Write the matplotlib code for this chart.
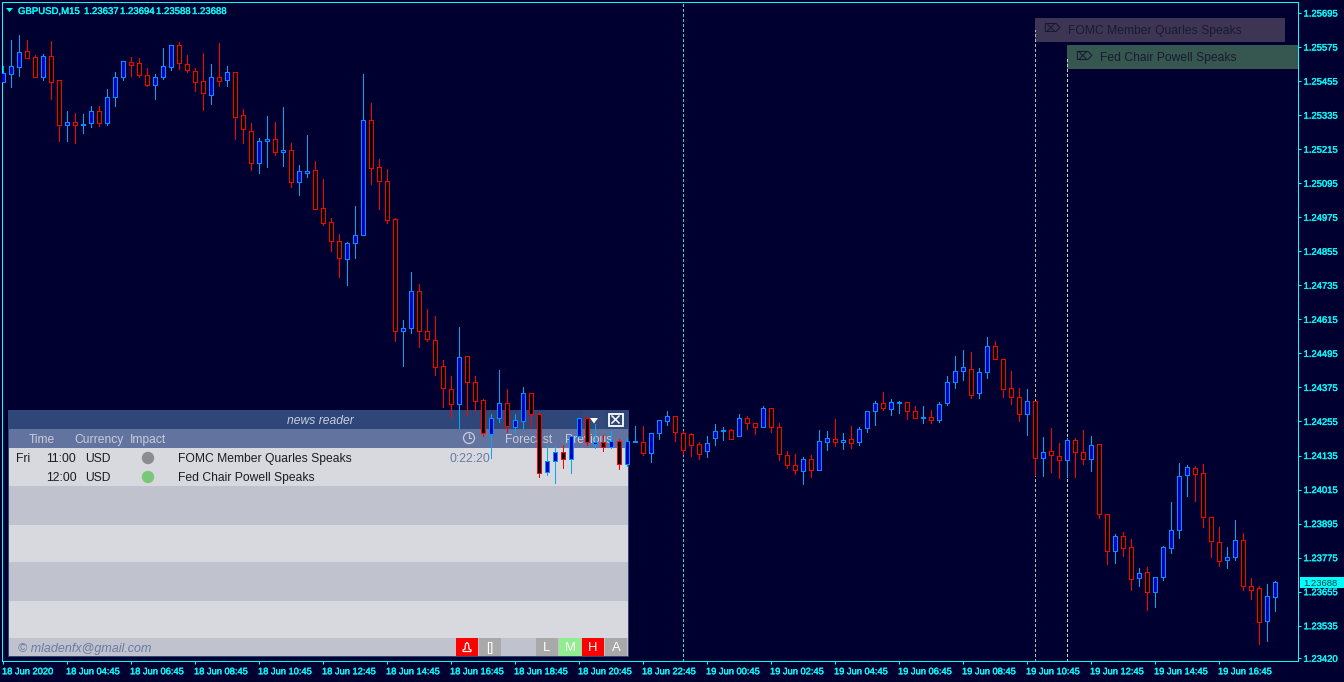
import matplotlib
matplotlib.use("Agg")
import matplotlib.pyplot as plt
from matplotlib.patches import Rectangle, Circle, Polygon
from matplotlib.transforms import ScaledTranslation
import matplotlib.patheffects as pe

# ---- data: prices in points (1e-5) ----
opens = [125452,125480,125505,125561,125540,125470,125544,125459,125300,125311,
125300,125307,125350,125307,125399,125470,125522,125519,125477,125441,
125470,125505,125582,125515,125491,125455,125406,125470,125459,125487,
125336,125279,125166,125244,125251,125205,125212,125099,125131,125142,
125008,124958,124891,124828,124884,124913,125318,125152,125103,124969,
124574,124585,124715,124574,124543,124451,124370,124317,124486,124394,
124331,124211,124268,124320,124236,124257,124356,124282,124077,124116,
124148,124123,124204,124268,124176,124183,124165,124186,124105,124183,
124183,124144,124215,124257,124275,124215,124211,124176,124151,124197,
124222,124225,124204,124268,124250,124236,124303,124236,124137,124102,
124081,124123,124084,124183,124194,124183,124194,124183,124232,124292,
124320,124299,124320,124324,124292,124268,124271,124260,124320,124394,
124433,124440,124356,124430,124521,124475,124373,124342,124282,124327,
124127,124151,124134,124120,124190,124148,124123,124176,123929,123799,
123852,123813,123704,123725,123654,123707,123809,123873,124067,124091,
124074,123919,123830,123767,123778,123837,123675,123668,123552,123637]
highs = [125508,125600,125618,125600,125547,125551,125596,125459,125350,125343,
125339,125367,125367,125427,125487,125526,125540,125537,125501,125480,
125572,125582,125593,125547,125501,125554,125515,125589,125508,125487,
125357,125307,125254,125332,125311,125364,125237,125159,125265,125173,
125110,124972,124916,124888,125015,125480,125378,125181,125145,124972,
124613,124782,124740,124652,124627,124472,124416,124588,124486,124416,
124335,124282,124437,124370,124282,124377,124356,124289,124172,124169,
124172,124204,124268,124275,124246,124208,124222,124194,124197,124239,
124239,124215,124260,124292,124275,124222,124215,124183,124204,124246,
124236,124229,124282,124275,124250,124310,124303,124250,124151,124141,
124130,124137,124225,124222,124264,124215,124239,124236,124292,124327,
124359,124335,124327,124324,124310,124310,124296,124324,124416,124486,
124507,124500,124444,124553,124539,124475,124433,124373,124370,124327,
124201,124232,124179,124197,124197,124225,124204,124176,123929,123859,
123866,123841,123739,123742,123707,123816,123971,124109,124102,124098,
124105,123919,123883,123813,123908,123862,123703,123675,123682,123694]
lows = [125452,125434,125473,125537,125470,125459,125392,125244,125244,125237,
125272,125293,125297,125300,125367,125459,125473,125470,125438,125392,
125462,125494,125498,125487,125420,125353,125374,125438,125438,125251,
125237,125142,125131,125152,125195,125156,125082,125054,125117,125004,
124948,124856,124765,124736,124832,124913,125092,125004,124955,124539,
124451,124567,124518,124539,124419,124306,124271,124232,124278,124292,
124204,124127,124253,124218,124215,124232,124236,124060,124067,124038,
124091,124074,124204,124172,124162,124151,124162,124088,124098,124183,
124137,124112,124194,124243,124186,124141,124134,124123,124130,124172,
124190,124194,124204,124229,124211,124236,124218,124120,124091,124070,
124035,124060,124084,124155,124169,124158,124162,124172,124218,124243,
124296,124278,124285,124264,124268,124250,124250,124253,124313,124373,
124401,124338,124338,124409,124475,124342,124317,124257,124208,124067,
124063,124077,124056,124060,124060,124105,124081,123915,123753,123756,
123781,123661,123675,123591,123601,123696,123792,123845,123993,123975,
123883,123778,123746,123739,123767,123661,123630,123471,123481,123588]
closes = [125484,125508,125558,125537,125470,125544,125452,125300,125311,125300,
125304,125350,125307,125399,125470,125526,125512,125477,125441,125470,
125508,125582,125519,125494,125452,125413,125470,125455,125487,125329,
125286,125166,125244,125251,125205,125212,125099,125138,125138,125004,
124955,124891,124832,124884,124913,125318,125149,125103,124965,124574,
124585,124715,124574,124546,124447,124373,124317,124483,124394,124327,
124215,124268,124320,124239,124260,124356,124282,124074,124116,124148,
124123,124204,124268,124183,124183,124165,124186,124105,124186,124186,
124144,124215,124260,124275,124218,124155,124172,124141,124179,124222,
124225,124194,124268,124250,124236,124303,124236,124141,124102,124084,
124123,124084,124186,124197,124183,124190,124179,124229,124292,124320,
124303,124324,124324,124292,124268,124271,124260,124317,124394,124433,
124447,124349,124430,124521,124475,124370,124342,124282,124327,124127,
124148,124137,124120,124190,124148,124123,124172,123929,123799,123852,
123809,123700,123721,123654,123707,123813,123873,124063,124095,124070,
123919,123834,123763,123778,123837,123675,123661,123548,123640,123688]

y_ticks = [1.25695,1.25575,1.25455,1.25335,1.25215,1.25095,1.24975,1.24855,1.24735,1.24615,
           1.24495,1.24375,1.24255,1.24135,1.24015,1.23895,1.23775,1.23655,1.23535,1.23420]
x_tick_labels = ["18 Jun 2020","18 Jun 04:45","18 Jun 06:45","18 Jun 08:45","18 Jun 10:45",
                 "18 Jun 12:45","18 Jun 14:45","18 Jun 16:45","18 Jun 18:45","18 Jun 20:45",
                 "18 Jun 22:45","19 Jun 00:45","19 Jun 02:45","19 Jun 04:45","19 Jun 06:45",
                 "19 Jun 08:45","19 Jun 10:45","19 Jun 12:45","19 Jun 14:45","19 Jun 16:45"]
event_bars = [85, 129, 133]
event_colors = ["#20e0e0", "#b4b4bc", "#b0e0c4"]
event_tops = [1.0, 0.9575, 0.9165]

# ---- style ----
BG = "#000030"; CY = "#00ffff"
BULL_W = "#00a8f8"; BULL_E = "#0090ff"; BULL_F = "#0000c0"
BEAR = "#ff0000"; BEAR_F = "#000000"
SANS = "Liberation Sans"
W, H = 1344, 682
PX_PER_PRICE = 28366.0
LW = 0.72
HEAVY = [pe.withStroke(linewidth=0.25, foreground=CY)]

fig = plt.figure(figsize=(W/100, H/100), dpi=100, facecolor=BG)

ui = fig.add_axes([0, 0, 1, 1], zorder=0)
ui.set_xlim(0, W); ui.set_ylim(H, 0); ui.axis("off")

def box(a, x0, y0, x1, y1, c, **k):
    a.add_patch(Rectangle((x0, y0), x1-x0, y1-y0, facecolor=c, edgecolor="none", **k))

# event tags
box(ui, 1035, 18, 1285, 42, "#3c3654")
box(ui, 1067, 45, 1298, 69, "#35574f")
for x, y, s in [(1051, 29, "FOMC Member Quarles Speaks"), (1083, 56, "Fed Chair Powell Speaks")]:
    ui.text(x, y, "\u2326", family="DejaVu Sans", fontsize=8.5, weight="bold", color="#181830", ha="center", va="center")
    ui.text(x+17, y+2, s, family=SANS, fontsize=8.7, color="#1a1a30", va="center")

# news panel
box(ui, 8, 410, 629, 657, "#2e4678")
box(ui, 9, 429, 628, 448, "#62739f")
rows = [(448,486,"#d8d9de"),(486,525,"#c0c2ce"),(525,562,"#d8d9de"),(562,601,"#c0c2ce"),(601,638,"#d8d9de"),(638,656,"#c0c2ce")]
for y0, y1, c_ in rows:
    box(ui, 9, y0, 628, y1, c_)
box(ui, 583, 410, 605, 429, "#32497a")
ui.text(320, 421, "news reader", family=SANS, style="italic", fontsize=8.7, color="#c8cde0", ha="center", va="center")
HC = "#c8ccd8"
for x, s in [(29,"Time"),(74,"Currency"),(130,"Impact"),(505,"Forecast"),(565,"Previous")]:
    ui.text(x, 440, s, family=SANS, fontsize=8.7, color=HC, va="center")
ui.add_patch(Circle((469, 438), 5.5, facecolor="none", edgecolor=HC, lw=0.9))
ui.plot([469, 469, 471], [434, 438, 438], color=HC, lw=0.8)
TC = "#1c1c24"
for x, y, s in [(16,459,"Fri"),(46.5,459,"11:00"),(85,459,"USD"),(178,459,"FOMC Member Quarles Speaks"),
                (46.5,478,"12:00"),(85,478,"USD"),(178,478,"Fed Chair Powell Speaks")]:
    ui.text(x, y, s, family=SANS, fontsize=8.7, color=TC, va="center")
ui.text(449, 459, "0:22:20", family=SANS, fontsize=8.7, color="#6b7a9f", va="center")
ui.add_patch(Circle((148, 458), 6.2, facecolor="#8c8c90", edgecolor="none"))
ui.add_patch(Circle((148, 477), 6.2, facecolor="#78c878", edgecolor="none"))
ui.text(18, 649, "\u00a9 mladenfx@gmail.com", family=SANS, style="italic", fontsize=9.0, color="#6b7a9f", va="center")
ui.add_patch(Polygon([[590,418],[598,418],[594,423.5]], closed=True, facecolor="white", edgecolor="none"))
ui.add_patch(Rectangle((608.5,413.5),14,12, facecolor="#2e4678", edgecolor="white", lw=1.3))
ui.plot([612,619],[416,423], color="white", lw=1.1); ui.plot([612,619],[423,416], color="white", lw=1.1)

for x0, x1, c_, s in [(456,478,"#ff0000",""),(479,501,"#a9a9a9","[]"),(536,558,"#a9a9a9","L"),
                     (559,581,"#90ee90","M"),(582,604,"#ff0000","H"),(605,627,"#a9a9a9","A")]:
    box(ui, x0, 638, x1, 656, c_)
    if s:
        ui.text((x0+x1)/2, 648, s, family=SANS, fontsize=9.4, color="white", ha="center", va="center")
ui.add_patch(Polygon([[463,650],[465,649],[465.5,644],[467,642.5],[468.5,644],[469,649],[471,650],[471,651.5],[463,651.5]],
                     closed=True, facecolor="none", edgecolor="white", lw=0.9))

# chart header
ui.add_patch(Polygon([[6,8],[13,8],[9.5,12]], closed=True, facecolor=CY, edgecolor="none"))
ui.text(18, 11, "GBPUSD,M15", family=SANS, fontsize=6.9, color=CY, va="center", path_effects=HEAVY)
for x, v in zip([84,120,156,192], [opens[-1], highs[-1], lows[-1], closes[-1]]):
    ui.text(x, 11, f"{v/1e5:.5f}", family=SANS, fontsize=6.9, color=CY, va="center", path_effects=HEAVY)

# main chart axes
ax = fig.add_axes([2.0/W, (H-661.0)/H, 1296/W, 659/H], zorder=1)
ax.patch.set_alpha(0)
ax.set_xlim(-1/8, 1295/8)
ax.set_ylim(1.25695 - 648/PX_PER_PRICE, 1.25695 + 11/PX_PER_PRICE)

idx = list(range(len(opens)))
P = lambda a: [v/1e5 for v in a]
o, h, l, c = P(opens), P(highs), P(lows), P(closes)
edge = [BULL_E if cc >= oo else BEAR for oo, cc in zip(o, c)]
wick = [BULL_W if cc >= oo else BEAR for oo, cc in zip(o, c)]
fill = [BULL_F if cc >= oo else BEAR_F for oo, cc in zip(o, c)]
for b, col, t_ in zip(event_bars, event_colors, event_tops):
    ax.axvline(b, ymin=0, ymax=t_, color=col, lw=LW, ls=(0, (2.5, 2.5)), antialiased=False, zorder=1)
ax.vlines(idx, l, h, colors=wick, lw=LW, antialiased=False, zorder=2)
ax.bar(idx, [abs(a-b) for a, b in zip(o, c)], bottom=[min(a, b) for a, b in zip(o, c)],
       width=0.5, color=fill, edgecolor=edge, lw=LW, antialiased=False, zorder=3)

for s in ax.spines.values():
    s.set_color(CY); s.set_linewidth(LW)
ax.yaxis.tick_right()
ax.set_yticks(y_ticks)
ax.set_yticklabels([f"{v:.5f}" for v in y_ticks], family=SANS, fontsize=6.8, color=CY, path_effects=HEAVY)
ax.tick_params(axis="y", length=2.2, width=LW, color=CY, pad=1.8)
ax.set_xticks(idx[::8])
ax.set_xticklabels(x_tick_labels, family=SANS, fontsize=6.7, color=CY, ha="left", path_effects=HEAVY)
ax.tick_params(axis="x", length=2.2, width=LW, color=CY, pad=2.3)
off = ScaledTranslation(-1/100, 0, fig.dpi_scale_trans)
for t in ax.get_xticklabels():
    t.set_transform(t.get_transform() + off)

top = fig.add_axes([0, 0, 1, 1], zorder=2)
top.set_xlim(0, W); top.set_ylim(H, 0); top.axis("off"); top.patch.set_alpha(0)
yc = 13.5 + (1.25695 - c[-1]) * PX_PER_PRICE
box(top, 1300, yc-5.5, 1344, yc+5.5, CY)
top.text(1303.5, yc+0.3, f"{c[-1]:.5f}", family=SANS, fontsize=6.8, color="#004040", va="center")

fig.savefig("out.png", dpi=100, facecolor=BG)
